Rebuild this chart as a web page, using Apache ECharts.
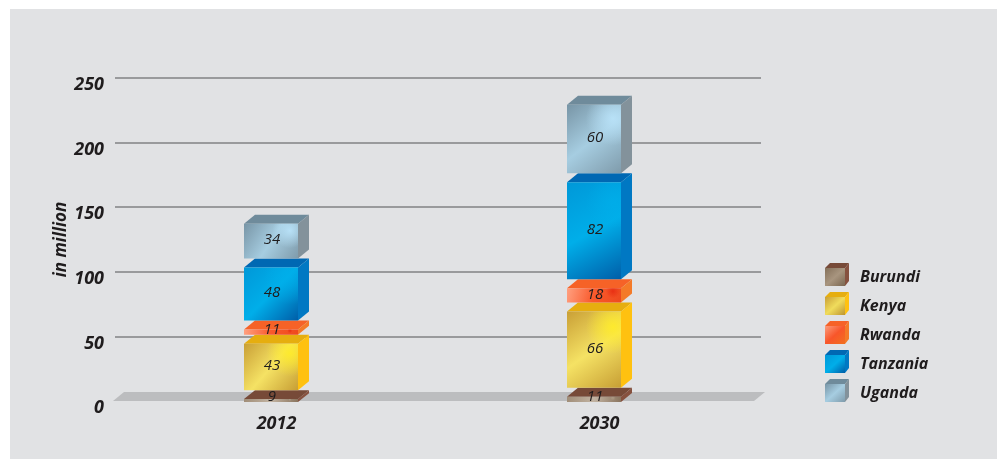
<!DOCTYPE html>
<html>
<head>
<meta charset="utf-8">
<title>Population</title>
<script src="https://cdn.jsdelivr.net/npm/echarts@6/dist/echarts.min.js"></script>
<style>
    html, body { margin: 0; padding: 0; background: #fff; }
    #chart { width: 997px; height: 459px; }
</style>
</head>
<body>
<div id="chart"></div>
<script>
const years = ["2012", "2030"];
const countries = ["Burundi", "Kenya", "Rwanda", "Tanzania", "Uganda"];
const burundi = [9, 11];
const kenya = [43, 66];
const rwanda = [11, 18];
const tanzania = [48, 82];
const uganda = [34, 60];
const yTicks = [0, 50, 100, 150, 200, 250];

const seriesValues = [burundi, kenya, rwanda, tanzania, uganda];

// box look: front face stops, top and side colours, corner highlight, legend stops
const faces = {
    Burundi: {stops:["#a08d78","#c2b3a2","#8a745e"], top:"#774a38", side:"#86513f", glow:"rgba(190,175,155,0.5)", key:["#84705a","#a8957f","#7a6650"]},
    Kenya: {stops:["#c99f36","#f5e264","#c79e34"], top:"#e6ae0f", side:"#ffc110", glow:"rgba(255,236,40,0.9)", key:["#c99f36","#f0dc5c","#bd9430"]},
    Rwanda: {stops:["#ffa080","#f9592b","#ee4a1e"], top:"#f66227", side:"#f47a28", glow:"rgba(232,45,18,0.9)", key:["#fb9c7c","#f8562a","#f2701f"]},
    Tanzania: {stops:["#0098d8","#00aee9","#005ea8"], top:"#0068b3", side:"#0078c3", glow:"rgba(0,175,235,0.6)", key:["#0098d8","#00aee9","#005ea8"]},
    Uganda: {stops:["#7895a6","#a6cde1","#7f9bab"], top:"#6f8b9b", side:"#83929b", glow:"rgba(185,226,248,0.95)", key:["#7895a6","#a6cde1","#7f9bab"]}
};

const BOX_W = 54, DEPTH_X = 11, DEPTH_Y = 9;
const TEXT = "#1f1c1d";
const FONT = '"Open Sans", "Noto Sans", sans-serif';

function frontGradient(name) {
    const s = faces[name].stops;
    return {type:"linear", x:0, y:0, x2:1, y2:1, colorStops:[
        {offset:0, color:s[0]}, {offset:0.5, color:s[1]}, {offset:1, color:s[2]}
    ]};
}

function renderBox(name) {
    return function(params, api) {
        const start = api.coord([api.value(0), api.value(1)]);
        const end = api.coord([api.value(0), api.value(2)]);
        const x = start[0] - (BOX_W + DEPTH_X) / 2;
        const bottom = start[1] + 1, top = end[1] + 1;
        const frontTop = Math.min(top + DEPTH_Y, bottom - 3);
        const f = faces[name];
        const w = BOX_W, dx = DEPTH_X, dy = frontTop - top;
        return {type:"group", children:[
            {type:"polygon", shape:{points:[[x,frontTop],[x+dx,top],[x+w+dx,top],[x+w,frontTop]]}, style:{fill:f.top}},
            {type:"polygon", shape:{points:[[x+w,frontTop],[x+w+dx,top],[x+w+dx,bottom-dy],[x+w,bottom]]}, style:{fill:f.side}},
            {type:"rect", shape:{x:x, y:frontTop, width:w, height:bottom-frontTop}, style:{fill:frontGradient(name)}},
            {type:"rect", shape:{x:x, y:frontTop, width:w, height:bottom-frontTop},
                style:{fill:{type:"radial", x:0.85, y:0.2, r:0.5, colorStops:[
                    {offset:0, color:f.glow}, {offset:1, color:f.glow.replace(/[\d.]+\)$/, "0)")}
                ]}}},
            {type:"text", style:{
                x:x+w/2+1, y:Math.min((frontTop+bottom)/2, bottom-4)-1,
                text:String(api.value(3)), fill:TEXT, align:"center", verticalAlign:"middle",
                font:'italic 400 15px '+FONT
            }}
        ]};
    };
}

// icon is taller than the cube so the legend text sits a little below the cube's middle
function legendIcon(name) {
    const f = faces[name], s = f.key;
    const svg = '<svg xmlns="http://www.w3.org/2000/svg" width="24" height="29" viewBox="0 0 24 29">'
        + '<defs><linearGradient id="g" x1="0" y1="0" x2="1" y2="1">'
        + '<stop offset="0" stop-color="'+s[0]+'"/><stop offset="0.5" stop-color="'+s[1]+'"/><stop offset="1" stop-color="'+s[2]+'"/>'
        + '</linearGradient></defs>'
        + '<polygon points="0,5 5,0 24,0 20,5" fill="'+f.top+'"/>'
        + '<polygon points="20,5 24,0 24,18 20,23" fill="'+f.side+'"/>'
        + '<rect x="0" y="5" width="20" height="18" fill="url(#g)"/></svg>';
    return "image://data:image/svg+xml;charset=utf-8," + encodeURIComponent(svg);
}

// stacked from the bottom country up
const running = years.map(()=>0);
const boxSeries = countries.map((name, i)=>({
    name: name,
    type: "custom",
    renderItem: renderBox(name),
    encode: {x:0, y:[1,2]},
    z: 3 + i,
    clip: false,
    itemStyle: {color: faces[name].side},
    data: years.map((y, k)=>{
        const from = running[k];
        running[k] += seriesValues[i][k];
        return [k, from, running[k], seriesValues[i][k]];
    })
}));

const floorSeries = {
    type: "custom",
    silent: true,
    z: 2,
    clip: false,
    data: [[0, 0]],
    encode: {x:0, y:1},
    renderItem: function(params, api) {
        const c = params.coordSys;
        const y0 = api.coord([0, 0])[1];
        return {type:"polygon", shape:{points:[
            [c.x-2, y0], [c.x+9, y0-9], [c.x+c.width+4, y0-9], [c.x+c.width-7, y0]
        ]}, style:{fill:"#bcbdbf"}};
    }
};

const chart = echarts.init(document.getElementById("chart"), null, {renderer:"canvas"});
chart.setOption({
    animation: false,
    tooltip: {show:false},
    graphic: [{type:"rect", left:10, top:9, z:-10, silent:true, shape:{width:987, height:450}, style:{fill:"#e1e2e4"}}],
    grid: {left:115, top:78, width:646, height:323},
    legend: {
        orient: "vertical",
        left: 825,
        top: 263,
        padding: 0,
        itemWidth: 24,
        itemHeight: 29,
        itemGap: 0,
        selectedMode: false,
        data: countries.map(n=>({name:n, icon:legendIcon(n)})),
        textStyle: {color:TEXT, fontFamily:FONT, fontStyle:"italic", fontWeight:700, fontSize:16, padding:[0,0,0,6]}
    },
    xAxis: {
        type: "category",
        data: years,
        axisLine: {show:false},
        axisTick: {show:false},
        axisLabel: {color:TEXT, fontFamily:FONT, fontStyle:"italic", fontWeight:700, fontSize:18, margin:14}
    },
    yAxis: {
        type: "value",
        min: yTicks[0],
        max: yTicks[yTicks.length-1],
        interval: 50,
        name: "in million",
        nameLocation: "middle",
        nameRotate: 90,
        nameGap: 45,
        nameMoveOverlap: false,
        nameTextStyle: {color:TEXT, fontFamily:FONT, fontStyle:"italic", fontWeight:700, fontSize:17},
        axisLine: {show:false},
        axisTick: {show:false},
        splitLine: {show:true, showMinLine:false, lineStyle:{color:"#808284", width:1.5}},
        axisLabel: {color:TEXT, fontFamily:FONT, fontStyle:"italic", fontWeight:700, fontSize:18, margin:11, verticalAlign:"top", lineHeight:14}
    },
    series: [floorSeries].concat(boxSeries)
});
</script>
</body>
</html>
